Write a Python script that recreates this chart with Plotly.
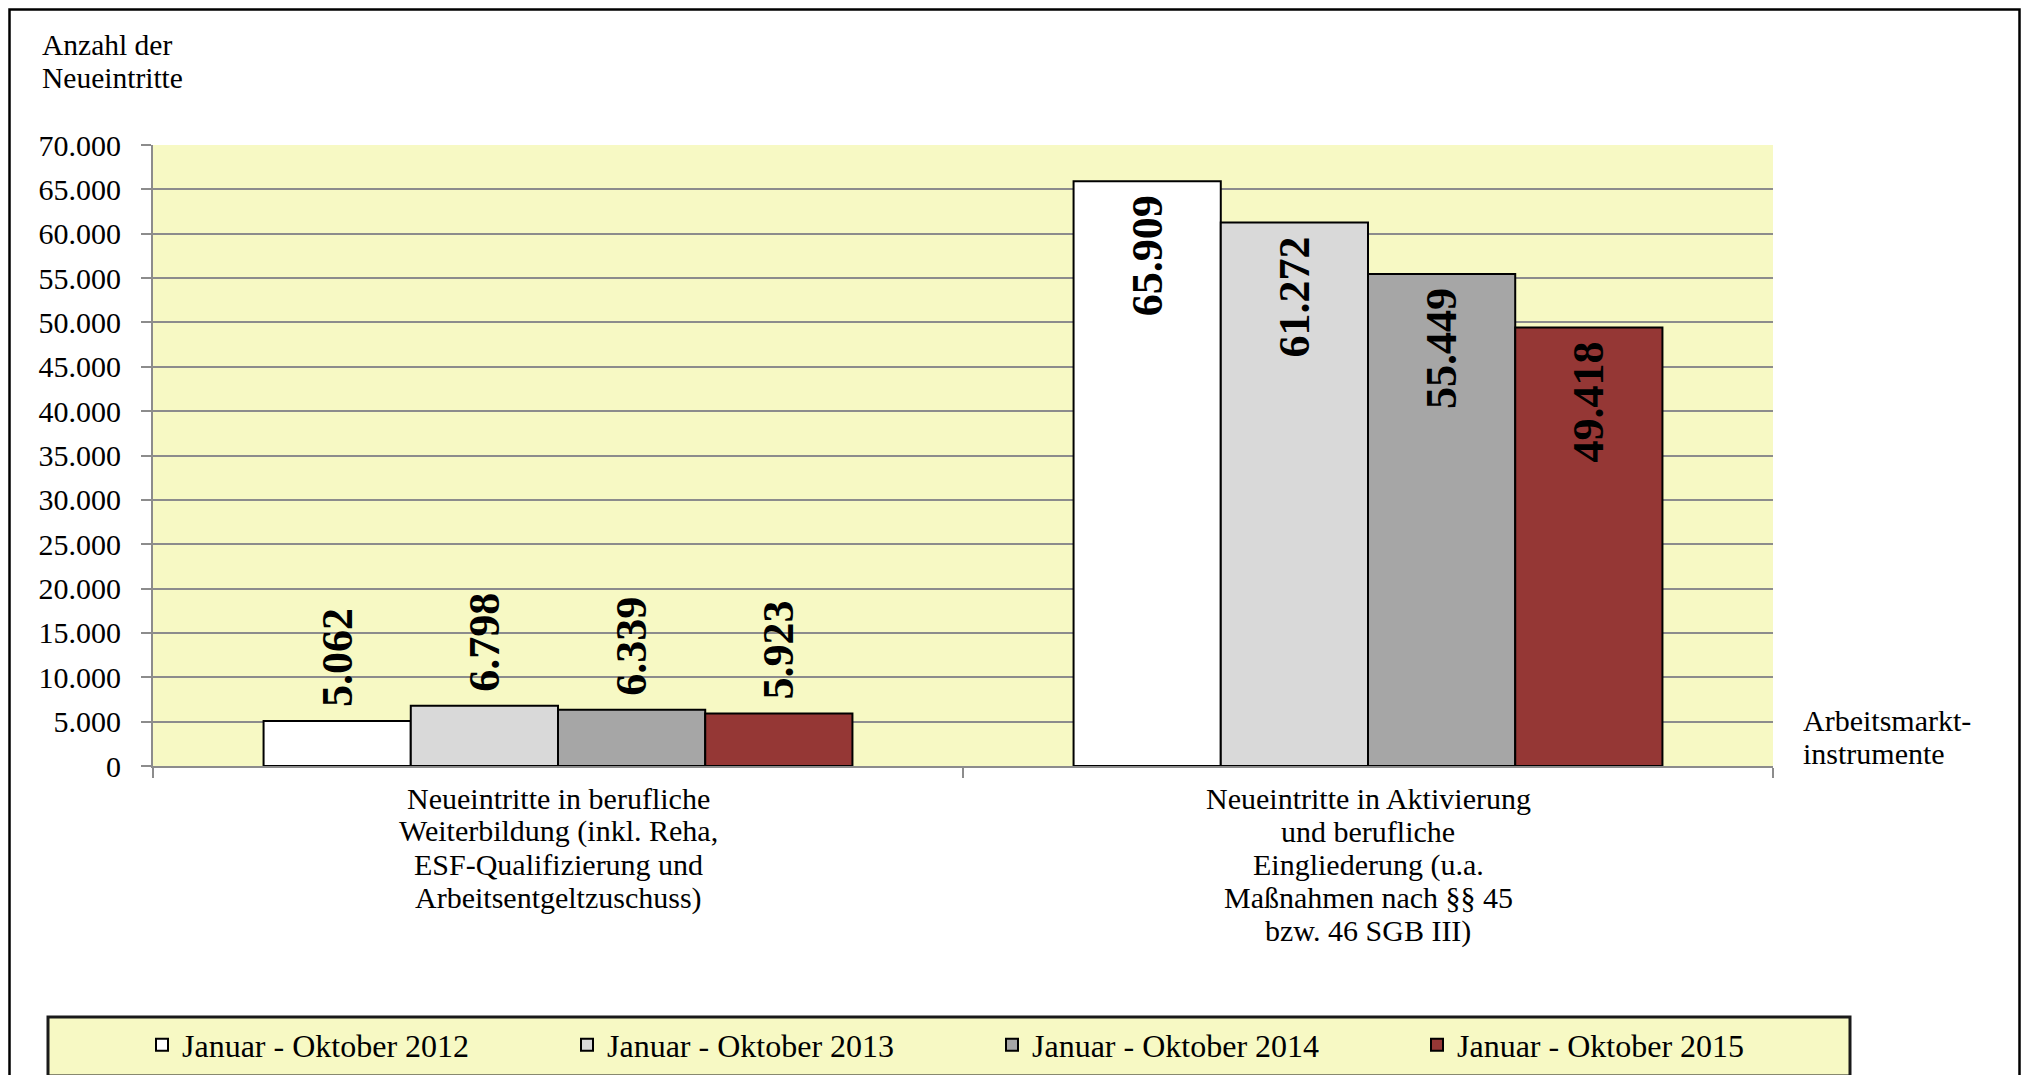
import plotly.graph_objects as go

category_keys = ["Weiterbildung", "Aktivierung"]
category_lines = [
    ["Neueintritte in berufliche", "Weiterbildung (inkl. Reha,",
     "ESF-Qualifizierung und", "Arbeitsentgeltzuschuss)"],
    ["Neueintritte in Aktivierung", "und berufliche", "Eingliederung (u.a.",
     "Maßnahmen nach §§ 45", "bzw. 46 SGB III)"],
]
series_names = ["Januar - Oktober 2012", "Januar - Oktober 2013",
                "Januar - Oktober 2014", "Januar - Oktober 2015"]
values_2012 = [5062, 65909]
values_2013 = [6798, 61272]
values_2014 = [6339, 55449]
values_2015 = [5923, 49418]
series_values = [values_2012, values_2013, values_2014, values_2015]
colors = ["#FFFFFF", "#D9D9D9", "#A6A6A6", "#953735"]
y_tickvals = list(range(0, 70001, 5000))
y_title_lines = ["Anzahl der", "Neueintritte"]
x_title_lines = ["Arbeitsmarkt-", "instrumente"]

FONT = "Liberation Serif"
BG = "#F7F9C4"
OFF = 8  # page body margin

# target geometry in window pixels
PL, PR, PT, PB = 153, 1773, 145, 766
W, H = 2029 - 2 * OFF, 1083 - 2 * OFF
L, T = PL - OFF, PT - OFF
pw, ph = PR - PL, PB - PT
R, B = W - L - pw, H - T - ph


def px(x):
    return (x - PL) / pw


def py(y):
    return (PB - y) / ph


fig = go.Figure()
for name, vals, col in zip(series_names, series_values, colors):
    fig.add_trace(go.Bar(
        x=category_keys, y=vals, name=name,
        marker=dict(color=col, line=dict(color="#000000", width=2)),
        texttemplate=["\u00a0%{y:,}", "%{y:,}\u00a0"],
        textposition=["outside", "inside"],
        insidetextanchor="end",
        textangle=-90,
        constraintext="none",
        cliponaxis=False,
        textfont=dict(family=FONT, size=44, color="#000000", weight="bold"),
    ))

annotations = []
for key, lines in zip(category_keys, category_lines):
    for i, line in enumerate(lines):
        annotations.append(dict(
            text=line, xref="x", yref="paper", x=key, y=0,
            xanchor="center", yanchor="middle", yshift=-(32 + i * 33.3),
            showarrow=False, font=dict(family=FONT, size=30, color="#000000")))
for i, line in enumerate(y_title_lines):
    annotations.append(dict(
        text=line, xref="paper", yref="paper", x=px(40), y=py(45 + i * 33.5),
        xanchor="left", yanchor="middle", showarrow=False,
        font=dict(family=FONT, size=29.5, color="#000000")))
for i, line in enumerate(x_title_lines):
    annotations.append(dict(
        text=line, xref="paper", yref="paper", x=px(1801), y=py(720 + i * 33.5),
        xanchor="left", yanchor="middle", showarrow=False,
        font=dict(family=FONT, size=30, color="#000000")))

fig.update_layout(
    width=W, height=H,
    margin=dict(l=L, r=R, t=T, b=B, pad=0, autoexpand=False),
    paper_bgcolor="#FFFFFF",
    plot_bgcolor=BG,
    separators=",.",
    barmode="group",
    bargap=0.273,
    bargroupgap=0,
    font=dict(family=FONT, size=30, color="#000000"),
    showlegend=True,
    legend=dict(
        orientation="h", x=px(142), xanchor="left", y=py(1045), yanchor="middle",
        bgcolor="rgba(0,0,0,0)", borderwidth=0,
        font=dict(family=FONT, size=32, color="#000000"),
        entrywidth=380, entrywidthmode="pixels",
        traceorder="normal",
    ),
    xaxis=dict(
        showgrid=False, showline=True, linecolor="#8C8C8C", linewidth=2,
        ticks="outside", tickson="boundaries", ticklen=10, tickwidth=2, tickcolor="#8C8C8C",
        showticklabels=False,
    ),
    yaxis=dict(
        range=[0, 70000], tickvals=y_tickvals, tickformat=",d",
        showgrid=True, gridcolor="#8C8C8C", gridwidth=2,
        showline=True, linecolor="#8C8C8C", linewidth=2,
        ticks="outside", ticklen=10, tickwidth=2, tickcolor="#8C8C8C",
        tickfont=dict(family=FONT, size=30, color="#000000"),
        ticklabelstandoff=14,
        zeroline=False,
    ),
    annotations=annotations,
    shapes=[
        dict(type="rect", xref="paper", yref="paper",
             x0=px(9.5), x1=px(2019.5), y0=py(1090), y1=py(9.5),
             line=dict(color="#000000", width=2.5), fillcolor="rgba(0,0,0,0)", layer="above"),
        dict(type="rect", xref="paper", yref="paper",
             x0=px(48), x1=px(1850), y0=py(1076), y1=py(1017),
             line=dict(color="#1A1A1A", width=3), fillcolor=BG, layer="below"),
    ],
)

fig.write_html("out.html")
